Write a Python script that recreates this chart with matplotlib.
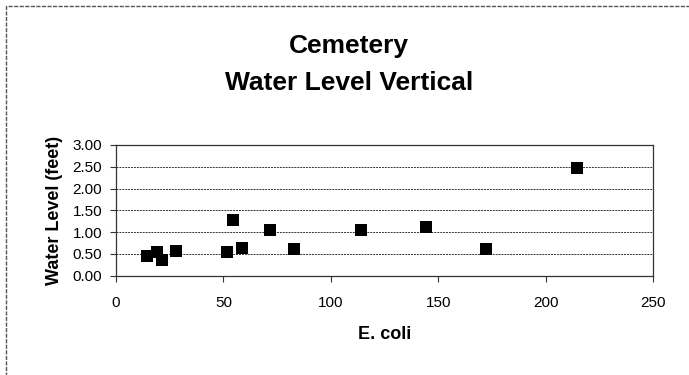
import matplotlib
matplotlib.use("Agg")
import matplotlib.pyplot as plt
from matplotlib.patches import Rectangle

# E. coli vs water level (feet)
ecoli = [14.5, 19.2, 21.6, 27.8, 51.6, 54.5, 58.7, 71.7, 82.9, 114.1, 144.2, 172.3, 214.5]
water_level = [0.45, 0.53, 0.36, 0.56, 0.55, 1.27, 0.64, 1.04, 0.60, 1.04, 1.11, 0.60, 2.46]

x_ticks = [0, 50, 100, 150, 200, 250]
y_ticks = [0.0, 0.5, 1.0, 1.5, 2.0, 2.5, 3.0]

plt.rcParams['font.family'] = ['Liberation Sans', 'DejaVu Sans']

fig = plt.figure(figsize=(6.89, 3.75), dpi=100)
ax = fig.add_axes([116 / 689, 1 - 275.5 / 375, 537 / 689, 130.5 / 375])

# outer frame of the chart object
fig.patches.append(Rectangle((6 / 689, -0.05), 1.0, 1 - 6 / 375 + 0.05,
                             transform=fig.transFigure, fill=False,
                             edgecolor='#555555', linewidth=1.0,
                             linestyle=(0, (3, 1))))

ax.scatter(ecoli, water_level, marker='s', s=70, color='black', zorder=3,
           linewidths=0)

ax.set_xlim(0, 250)
ax.set_ylim(0, 3.0)
ax.set_xticks(x_ticks)
ax.set_yticks(y_ticks)
ax.set_yticklabels(['%.2f' % v for v in y_ticks])
ax.tick_params(axis='both', labelsize=11, direction='out', length=4,
               width=0.8, color='#333333', pad=6)
ax.tick_params(axis='x', pad=11)

ax.yaxis.grid(True, linestyle=(0, (2, 1)), color='#333333', linewidth=0.7)
ax.set_axisbelow(True)
for side in ['left', 'bottom', 'top', 'right']:
    ax.spines[side].set_color('#333333')
    ax.spines[side].set_linewidth(0.9)

ax.set_xlabel('E. coli', fontsize=13, fontweight='bold', labelpad=11)
ax.set_ylabel('Water Level (feet)', fontsize=13, fontweight='bold', labelpad=7)

fig.text(349 / 689, 1 - 53.5 / 375, 'Cemetery', ha='center', va='baseline',
         fontsize=19, fontweight='bold')
fig.text(349 / 689, 1 - 90 / 375, 'Water Level Vertical', ha='center',
         va='baseline', fontsize=19, fontweight='bold')

fig.savefig('out.png', dpi=100)
